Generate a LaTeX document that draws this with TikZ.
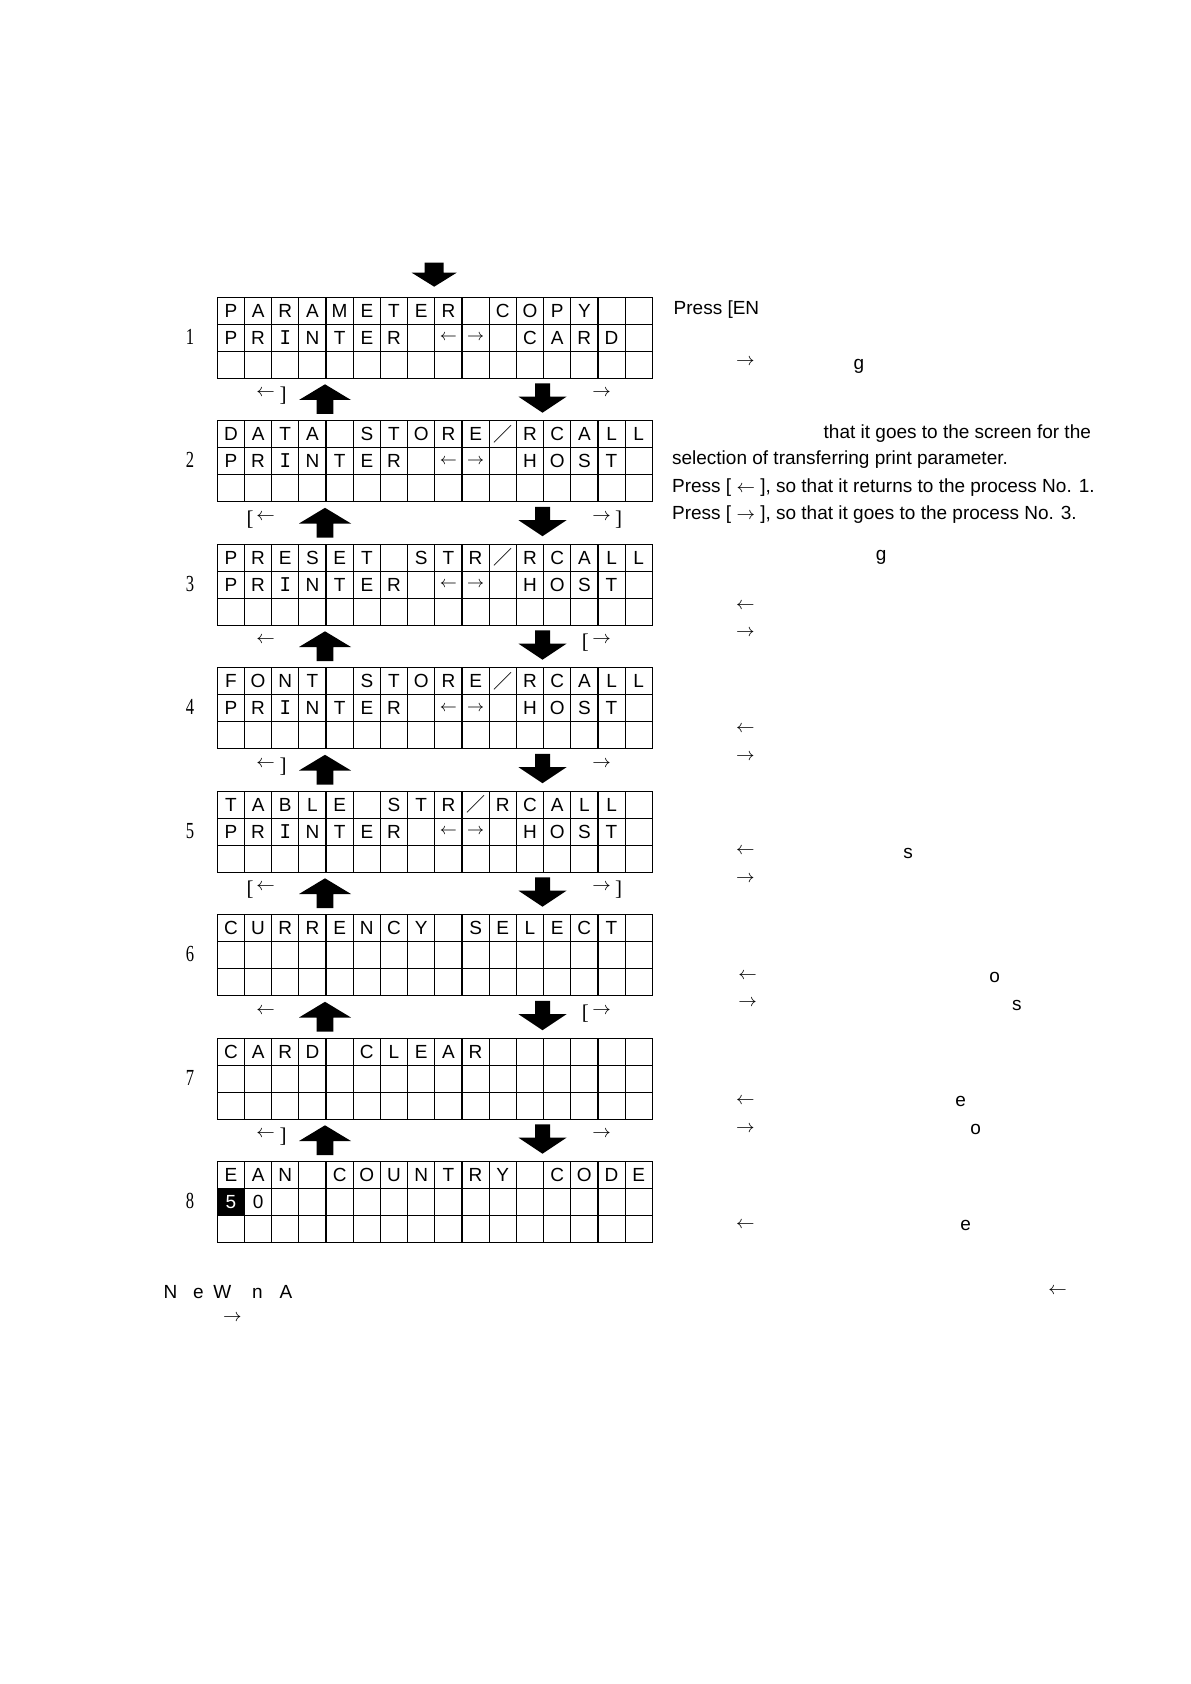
\documentclass[tikz,border=0pt]{standalone}
\usepackage{fontspec}
\usepackage{graphicx}
\setmainfont{Liberation Sans}
\newfontfamily\numfont{Liberation Serif}
\newfontfamily\brkfont{Liberation Serif}
\newfontfamily\monofontI{DejaVu Sans Mono}
\newfontfamily\cjkfont{Noto Sans CJK JP}
\usetikzlibrary{calc}
\newcommand\txtsize{\fontsize{9.5}{11}\selectfont}
\newcommand\arr[1]{{\fontsize{8.5}{10}\selectfont$#1$}}
\newcommand\mI{{\monofontI I}}
\newcommand\fsl{{\cjkfont ／}}
\newcommand\rownum[1]{{\numfont\fontsize{11.5}{13}\selectfont\scalebox{0.72}[1]{#1}}}
\newcommand\lcdgrid[4]{%
  \node[lcd] (#1) at (217.3,#2) {};
  \foreach \i in {1,...,15}
    \draw[lcdline] ($(#1.north west)+(27.1875*\i,0)$) -- ++(0,81);
  \foreach \j in {1,2}
    \draw[lcdline] ($(#1.north west)+(0,27*\j)$) -- ++(435,0);
  \foreach \ch [count=\i from 0] in {#3}{%
    \ifx\ch\empty\else
      \node[cell] (#1-a\i) at ($(#1.north west)+(27.1875*\i+13.6,13.2)$) {\ch};
    \fi}
  \foreach \ch [count=\i from 0] in {#4}{%
    \ifx\ch\empty\else
      \node[cell] (#1-b\i) at ($(#1.north west)+(27.1875*\i+13.6,40.2)$) {\ch};
    \fi}
}
\begin{document}
\begin{tikzpicture}[x=0.5pt,y=-0.5pt,
  every node/.style={font=\txtsize},
  lcd/.style={draw,line width=0.6pt,anchor=north west,minimum width=217.5pt,minimum height=40.5pt,inner sep=0pt,outer sep=0pt},
  lcdline/.style={line width=0.6pt},
  cell/.style={inner sep=0pt,anchor=center},
  txt/.style={inner sep=0pt,anchor=base west},
  arrc/.style={inner sep=0pt,anchor=center,font=\fontsize{9}{10}\selectfont},
  brk/.style={inner sep=0pt,anchor=center,font=\brkfont\fontsize{10.5}{12}\selectfont},
  numlab/.style={inner sep=0pt,anchor=center},
  upblk/.pic={\fill (0,0) -- (26,15.7) -- (8.3,15.7) -- (8.3,29.7) -- (-8.3,29.7) -- (-8.3,15.7) -- (-26,15.7) -- cycle;},
  downblk/.pic={\fill (-7.5,0) -- (7.5,0) -- (7.5,13.4) -- (24,13.4) -- (0,29.4) -- (-24,13.4) -- (-7.5,13.4) -- cycle;},
  topblk/.pic={\fill (-9.5,0) -- (9.5,0) -- (9.5,10) -- (22.5,10) -- (0,24) -- (-22.5,10) -- (-9.5,10) -- cycle;}
]
\path[use as bounding box] (0,0) rectangle (1190,1684);

% top arrow
\pic at (434.2,262.7) {topblk};

% grids
\lcdgrid{g1}{297.3}{P,A,R,A,M,E,T,E,R,,C,O,P,Y,,}{P,R,\mI,N,T,E,R,,\arr{\leftarrow},\arr{\rightarrow},,C,A,R,D,}
\lcdgrid{g2}{420.8}{D,A,T,A,,S,T,O,R,E,\fsl,R,C,A,L,L}{P,R,\mI,N,T,E,R,,\arr{\leftarrow},\arr{\rightarrow},,H,O,S,T,}
\lcdgrid{g3}{544.3}{P,R,E,S,E,T,,S,T,R,\fsl,R,C,A,L,L}{P,R,\mI,N,T,E,R,,\arr{\leftarrow},\arr{\rightarrow},,H,O,S,T,}
\lcdgrid{g4}{667.8}{F,O,N,T,,S,T,O,R,E,\fsl,R,C,A,L,L}{P,R,\mI,N,T,E,R,,\arr{\leftarrow},\arr{\rightarrow},,H,O,S,T,}
\lcdgrid{g5}{791.3}{T,A,B,L,E,,S,T,R,\fsl,R,C,A,L,L,}{P,R,\mI,N,T,E,R,,\arr{\leftarrow},\arr{\rightarrow},,H,O,S,T,}
\lcdgrid{g6}{914.8}{C,U,R,R,E,N,C,Y,,S,E,L,E,C,T,}{}
\lcdgrid{g7}{1038.3}{C,A,R,D,,C,L,E,A,R}{}
\lcdgrid{g8}{1161.8}{E,A,N,,C,O,U,N,T,R,Y,,C,O,D,E}{,0}
\fill ($(g8.north west)+(0,27)$) rectangle ++(27.1875,27);
\node[cell,text=white] (g8-b0) at ($(g8.north west)+(13.6,40.2)$) {5};

% row numbers
\foreach \g/\n in {g1/1,g2/2,g3/3,g4/4,g5/5,g6/6,g7/7,g8/8}
  \node[numlab] (num\n) at ($(\g.north west)+(-27.3,39.5)$) {\rownum{\n}};

% block arrows between screens
\foreach \g in {g1,g2,g3,g4,g5,g6,g7}{
  \pic at ($(\g.south west)+(107.7,6)$) {upblk};
  \pic at ($(\g.south west)+(325.2,5)$) {downblk};
}

% key labels between screens
% gap 1
\node[arrc] (l1a) at (265.5,393.3) {$\leftarrow$};
\node[brk] (l1b) at (283,396) {]};
\node[arrc] (r1a) at (601.5,393.3) {$\rightarrow$};
% gap 2
\node[brk] (l2b) at (250,519.3) {[};
\node[arrc] (l2a) at (265.5,516.8) {$\leftarrow$};
\node[arrc] (r2a) at (601.5,516.8) {$\rightarrow$};
\node[brk] (r2b) at (618.5,519.3) {]};
% gap 3
\node[arrc] (l3a) at (265.5,640.3) {$\leftarrow$};
\node[brk] (r3b) at (585.3,642.8) {[};
\node[arrc] (r3a) at (601.5,640.3) {$\rightarrow$};
% gap 4
\node[arrc] (l4a) at (265.5,763.8) {$\leftarrow$};
\node[brk] (l4b) at (283,766.5) {]};
\node[arrc] (r4a) at (601.5,763.8) {$\rightarrow$};
% gap 5
\node[brk] (l5b) at (250,889.8) {[};
\node[arrc] (l5a) at (265.5,887.3) {$\leftarrow$};
\node[arrc] (r5a) at (601.5,887.3) {$\rightarrow$};
\node[brk] (r5b) at (618.5,889.8) {]};
% gap 6
\node[arrc] (l6a) at (265.5,1010.8) {$\leftarrow$};
\node[brk] (r6b) at (585.3,1013.3) {[};
\node[arrc] (r6a) at (601.5,1010.8) {$\rightarrow$};
% gap 7
\node[arrc] (l7a) at (265.5,1134.3) {$\leftarrow$};
\node[brk] (l7b) at (283,1137) {]};
\node[arrc] (r7a) at (601.5,1134.3) {$\rightarrow$};

% right column text
\node[txt] (t1a) at (673.3,315) {Press [EN};
\node[arrc] (t1b) at (745.3,361.7) {$\rightarrow$};
\node[txt] (t1c) at (853.3,370) {g};
\node[txt] (t2a) at (823.3,438.3) {that it goes to the screen for the};
\node[txt] (t2b) at (671.7,465) {selection of transferring print parameter.};
\node[txt] (t2c) at (671.7,492.3) {Press [ $\leftarrow$ ], so that it returns to the process No. 1.};
\node[txt] (t2d) at (671.7,519.3) {Press [ $\rightarrow$ ], so that it goes to the process No. 3.};
\node[txt] (t3a) at (875.5,560) {g};
\node[arrc] (t3b) at (745.3,605.7) {$\leftarrow$};
\node[arrc] (t3c) at (745.3,632.7) {$\rightarrow$};
\node[arrc] (t4b) at (745.3,729) {$\leftarrow$};
\node[arrc] (t4c) at (745.3,757) {$\rightarrow$};
\node[arrc] (t5b) at (745.3,851) {$\leftarrow$};
\node[txt] (t5s) at (903,858.5) {s};
\node[arrc] (t5c) at (745.3,879) {$\rightarrow$};
\node[arrc] (t6b) at (747.5,975.7) {$\leftarrow$};
\node[txt] (t6o) at (989,982.5) {o};
\node[arrc] (t6c) at (747.5,1003.3) {$\rightarrow$};
\node[txt] (t6s) at (1011.7,1010.5) {s};
\node[arrc] (t7b) at (745.3,1100.7) {$\leftarrow$};
\node[txt] (t7e) at (955,1106.5) {e};
\node[arrc] (t7c) at (745.3,1129) {$\rightarrow$};
\node[txt] (t7o) at (970,1134.5) {o};
\node[arrc] (t8b) at (745.3,1224.7) {$\leftarrow$};
\node[txt] (t8e) at (960,1230.5) {e};

% bottom note fragments
\node[txt] (n1) at (163.3,1298.3) {N};
\node[txt] (n2) at (192.7,1298.3) {e};
\node[txt] (n3) at (213,1298.3) {W};
\node[txt] (n4) at (251.7,1298.3) {n};
\node[txt] (n5) at (279.3,1298.3) {A};
\node[arrc] (n6) at (232.3,1317.7) {$\rightarrow$};
\node[arrc] (n7) at (1057.5,1291) {$\leftarrow$};
\end{tikzpicture}
\end{document}
